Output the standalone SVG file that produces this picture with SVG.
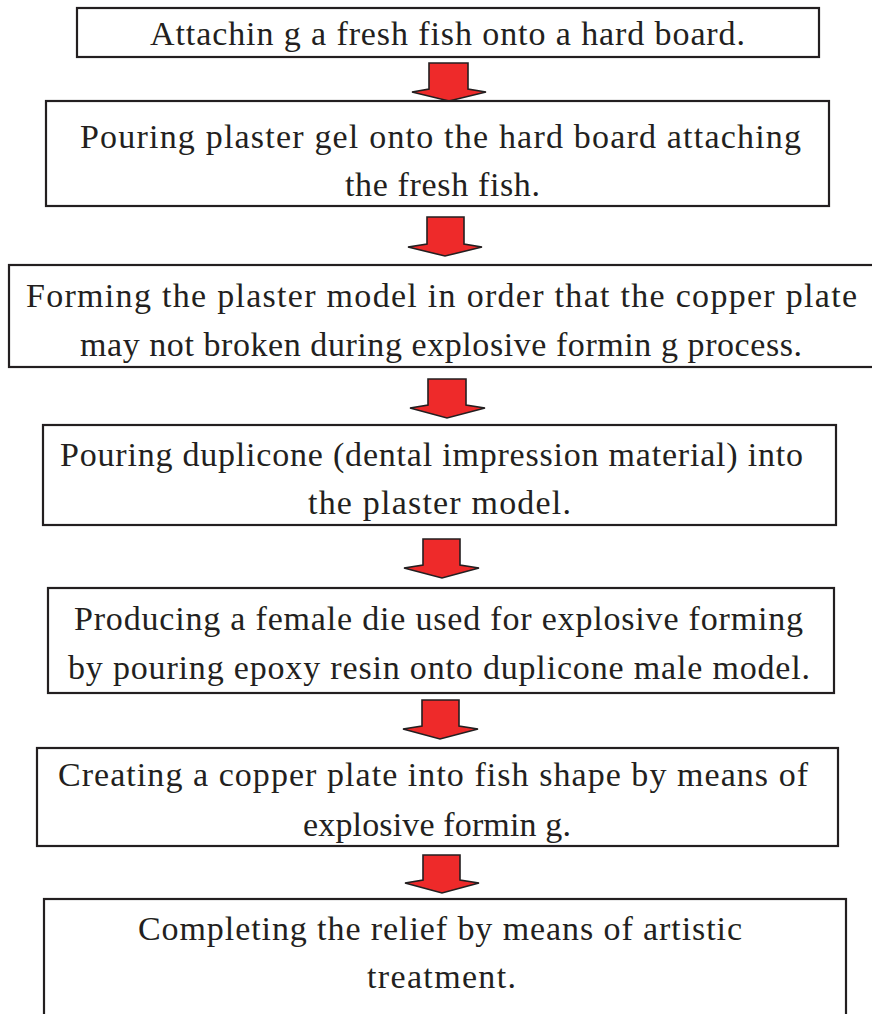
<svg xmlns="http://www.w3.org/2000/svg" width="872" height="1014" viewBox="0 0 872 1014">
<style>
.box{fill:#fff;stroke:#231f20;stroke-width:2.2}
.t{font-family:'Liberation Serif','Times New Roman',Times,serif;font-size:34px;fill:#231f20}
.arr{fill:#ee2a2a;stroke:#231f20;stroke-width:1.6;stroke-linejoin:miter}
</style>
<rect width="872" height="1014" fill="#fff"/>
<g id="connectors">
<polygon class="arr" points="429,63 468,63 468,89 486,92 449,101 412,92 429,89"/>
<polygon class="arr" points="427,217 464,217 464,244 482,247 445,256 408,247 427,244"/>
<polygon class="arr" points="428,379 466,379 466,405 485,408 447,418 410,408 428,405"/>
<polygon class="arr" points="423,539 460,539 460,565 479,568 442,578 404,568 423,565"/>
<polygon class="arr" points="422,700 459,700 459,726 478,729 440,739 403,729 422,726"/>
<polygon class="arr" points="423,855 460,855 460,880 479,883 442,893 405,883 423,880"/>
</g>
<g id="n1">
<rect class="box" x="77" y="8" width="742" height="49"/>
<text class="t" x="150" y="45" textLength="595" lengthAdjust="spacing">Attachin g a fresh fish onto a hard board.</text>
</g>
<g id="n2">
<rect class="box" x="46" y="101" width="783" height="105"/>
<text class="t" x="80" y="148" textLength="721" lengthAdjust="spacing">Pouring plaster gel onto the hard board attaching</text>
<text class="t" x="345" y="196" textLength="195" lengthAdjust="spacing">the fresh fish.</text>
</g>
<g id="n3">
<rect class="box" x="9" y="265" width="890" height="102"/>
<text class="t" x="26" y="307" textLength="831" lengthAdjust="spacing">Forming the plaster model in order that the copper plate</text>
<text class="t" x="80" y="356" textLength="722" lengthAdjust="spacing">may not broken during explosive formin g process.</text>
</g>
<g id="n4">
<rect class="box" x="43" y="425" width="793" height="100"/>
<text class="t" x="60" y="466" textLength="743" lengthAdjust="spacing">Pouring duplicone (dental impression material) into</text>
<text class="t" x="308" y="514" textLength="263" lengthAdjust="spacing">the plaster model.</text>
</g>
<g id="n5">
<rect class="box" x="48" y="588" width="786" height="105"/>
<text class="t" x="74" y="630" textLength="729" lengthAdjust="spacing">Producing a female die used for explosive forming</text>
<text class="t" x="68" y="679" textLength="742" lengthAdjust="spacing">by pouring epoxy resin onto duplicone male model.</text>
</g>
<g id="n6">
<rect class="box" x="37" y="748" width="801" height="98"/>
<text class="t" x="58" y="786" textLength="750" lengthAdjust="spacing">Creating a copper plate into fish shape by means of</text>
<text class="t" x="303" y="836" textLength="268" lengthAdjust="spacing">explosive formin g.</text>
</g>
<g id="n7">
<rect class="box" x="44" y="899" width="802" height="130"/>
<text class="t" x="138" y="940" textLength="604" lengthAdjust="spacing">Completing the relief by means of artistic</text>
<text class="t" x="367" y="988" textLength="149" lengthAdjust="spacing">treatment.</text>
</g>
</svg>
